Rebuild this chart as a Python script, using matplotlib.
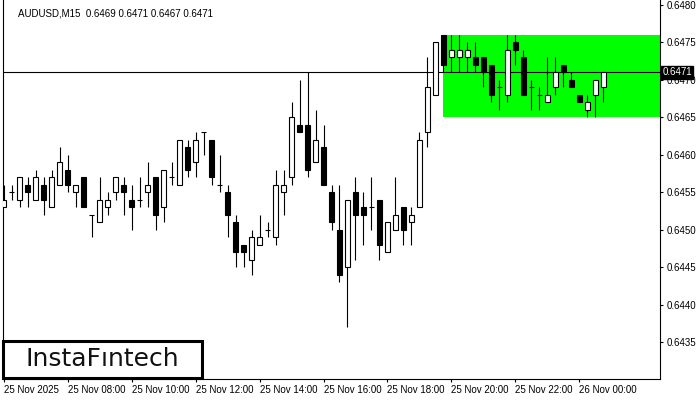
import matplotlib
matplotlib.use("Agg")
import matplotlib.pyplot as plt
from matplotlib.patches import Rectangle

# AUDUSD M15 candles, 25 Nov 06:00 onwards
opens = [0.6453, 0.6455, 0.6454, 0.6456, 0.6454, 0.6456, 0.6453, 0.6456, 0.6458, 0.6455,
         0.6457, 0.6452, 0.6451, 0.6453, 0.6455, 0.6456, 0.6454, 0.6454, 0.6455, 0.6457,
         0.6453, 0.6457, 0.6456, 0.6461, 0.6459, 0.6463, 0.6462, 0.6456, 0.6455, 0.6451,
         0.6448, 0.6446, 0.6448, 0.6450, 0.6449, 0.6455, 0.6457, 0.6464, 0.6464, 0.6459,
         0.6461, 0.6455, 0.6450, 0.6445, 0.6455, 0.6453, 0.6453, 0.6454, 0.6447, 0.6450,
         0.6453, 0.6451, 0.6453, 0.6463, 0.6468, 0.6476, 0.6473, 0.6473, 0.6473, 0.6473,
         0.6473, 0.6472, 0.6469, 0.6468, 0.6475, 0.6473, 0.6469, 0.6468, 0.6467, 0.6469,
         0.6472, 0.6470, 0.6468, 0.6466, 0.6468, 0.6469]
highs = [0.6456, 0.6456, 0.6457, 0.6457, 0.6458, 0.6457, 0.6458, 0.6461, 0.6460, 0.6456,
         0.6457, 0.6452, 0.6457, 0.6455, 0.6457, 0.6457, 0.6456, 0.6457, 0.6459, 0.6457,
         0.6458, 0.6459, 0.6462, 0.6462, 0.6463, 0.6463, 0.6462, 0.6460, 0.6456, 0.6452,
         0.6448, 0.6450, 0.6452, 0.6451, 0.6458, 0.6458, 0.6467, 0.6470, 0.6471, 0.6466,
         0.6464, 0.6456, 0.6456, 0.6454, 0.6457, 0.6455, 0.6457, 0.6454, 0.6451, 0.6457,
         0.6453, 0.6453, 0.6463, 0.6473, 0.6475, 0.6476, 0.6476, 0.6476, 0.6475, 0.6475,
         0.6473, 0.6472, 0.6470, 0.6476, 0.6476, 0.6474, 0.6470, 0.6469, 0.6473, 0.6473,
         0.6472, 0.6471, 0.6468, 0.6468, 0.6470, 0.6471]
lows = [0.6453, 0.6454, 0.6453, 0.6453, 0.6454, 0.6452, 0.6453, 0.6456, 0.6455, 0.6453,
        0.6453, 0.6449, 0.6451, 0.6452, 0.6454, 0.6452, 0.6450, 0.6453, 0.6453, 0.6450,
        0.6451, 0.6456, 0.6456, 0.6457, 0.6457, 0.6460, 0.6456, 0.6455, 0.6449, 0.6445,
        0.6445, 0.6444, 0.6448, 0.6449, 0.6448, 0.6452, 0.6456, 0.6463, 0.6457, 0.6459,
        0.6456, 0.6450, 0.6443, 0.6437, 0.6446, 0.6448, 0.6450, 0.6446, 0.6447, 0.6450,
        0.6448, 0.6448, 0.6453, 0.6461, 0.6468, 0.6471, 0.6471, 0.6471, 0.6471, 0.6471,
        0.6469, 0.6467, 0.6466, 0.6467, 0.6472, 0.6468, 0.6466, 0.6466, 0.6467, 0.6468,
        0.6469, 0.6469, 0.6467, 0.6465, 0.6465, 0.6467]
closes = [0.6454, 0.6455, 0.6457, 0.6455, 0.6457, 0.6454, 0.6457, 0.6459, 0.6456, 0.6456,
          0.6453, 0.6452, 0.6454, 0.6454, 0.6457, 0.6455, 0.6453, 0.6454, 0.6456, 0.6452,
          0.6458, 0.6457, 0.6462, 0.6458, 0.6462, 0.6463, 0.6457, 0.6456, 0.6452, 0.6447,
          0.6447, 0.6449, 0.6449, 0.6450, 0.6456, 0.6456, 0.6465, 0.6463, 0.6458, 0.6462,
          0.6456, 0.6451, 0.6444, 0.6454, 0.6452, 0.6452, 0.6453, 0.6448, 0.6451, 0.6452,
          0.6450, 0.6452, 0.6462, 0.6469, 0.6475, 0.6472, 0.6474, 0.6474, 0.6474, 0.6472,
          0.6471, 0.6468, 0.6469, 0.6474, 0.6474, 0.6468, 0.6469, 0.6468, 0.6468, 0.6471,
          0.6471, 0.6469, 0.6467, 0.6467, 0.6470, 0.6471]

tick_bars = [0, 8, 16, 24, 32, 40, 48, 56, 64, 72]
tick_labels = ["25 Nov 2025", "25 Nov 08:00", "25 Nov 10:00", "25 Nov 12:00", "25 Nov 14:00",
               "25 Nov 16:00", "25 Nov 18:00", "25 Nov 20:00", "25 Nov 22:00", "26 Nov 00:00"]
price_ticks = [0.6435, 0.6440, 0.6445, 0.6450, 0.6455, 0.6460, 0.6465, 0.6470, 0.6475, 0.6480]

current_price = 0.6471
zone_start = 55
zone_low, zone_high = 0.6465, 0.6476
header = "AUDUSD,M15  0.6469 0.6471 0.6467 0.6471"

plt.rcParams['font.family'] = ['Liberation Sans', 'DejaVu Sans']

fig = plt.figure(figsize=(7, 4), dpi=100)
ax = fig.add_axes([3 / 700, 21 / 400, 657 / 700, 379 / 400])

# green zone
ax.fill_between([zone_start, 90], zone_low, zone_high, color='#00ff00', lw=0, zorder=1)
ax.axhline(current_price, color='black', lw=0.8, zorder=1.5)

w = 0.6
for i in range(len(opens)):
    o, h, l, c = opens[i], highs[i], lows[i], closes[i]
    ax.vlines(i, l, h, color='black', lw=0.8, zorder=2)
    if o == c:
        ax.hlines(o, i - w / 2, i + w / 2, color='black', lw=0.8, zorder=3)
    else:
        fc = 'white' if c > o else 'black'
        ax.add_patch(Rectangle((i - w / 2, min(o, c)), w, abs(c - o),
                               facecolor=fc, edgecolor='black', lw=0.8, zorder=3))

ax.set_xlim(-0.1, 82.1)
ax.set_ylim(0.64301, 0.64806)

ax.spines['top'].set_visible(False)
for s in ['left', 'right', 'bottom']:
    ax.spines[s].set_linewidth(0.8)

ax.yaxis.tick_right()
ax.set_yticks(price_ticks)
ax.set_yticklabels([f"{p:.4f}" for p in price_ticks])
ax.tick_params(axis='y', direction='out', length=2.5, width=0.8, pad=2, labelsize=7)

ax.set_xticks(tick_bars)
ax.set_xticklabels(tick_labels, ha='left')
ax.tick_params(axis='x', direction='out', length=2.5, width=0.8, pad=2, labelsize=7)
for lbl in ax.get_xticklabels():
    lbl.set_x(0)

# current price label on the axis
ax.text(1.0035, current_price, f"{current_price:.4f}", transform=ax.get_yaxis_transform(),
        ha='left', va='center', fontsize=7, color='white', clip_on=False, zorder=10,
        bbox=dict(boxstyle='square,pad=0.15', facecolor='black', edgecolor='black'))

fig.text(18 / 700, 1 - 13 / 400, header, fontsize=7, va='center', ha='left')

# logo
fig.patches.append(Rectangle((3 / 700, 21.7 / 400), 199 / 700, 37.6 / 400,
                             transform=fig.transFigure, facecolor='white',
                             edgecolor='black', lw=2.2, zorder=5))
fig.text(102 / 700, 1 - 359 / 400, "InstaFıntech", fontsize=18, ha='center', va='center',
         family='DejaVu Sans', color='#111111', zorder=6)

fig.savefig("out.png", dpi=100)
